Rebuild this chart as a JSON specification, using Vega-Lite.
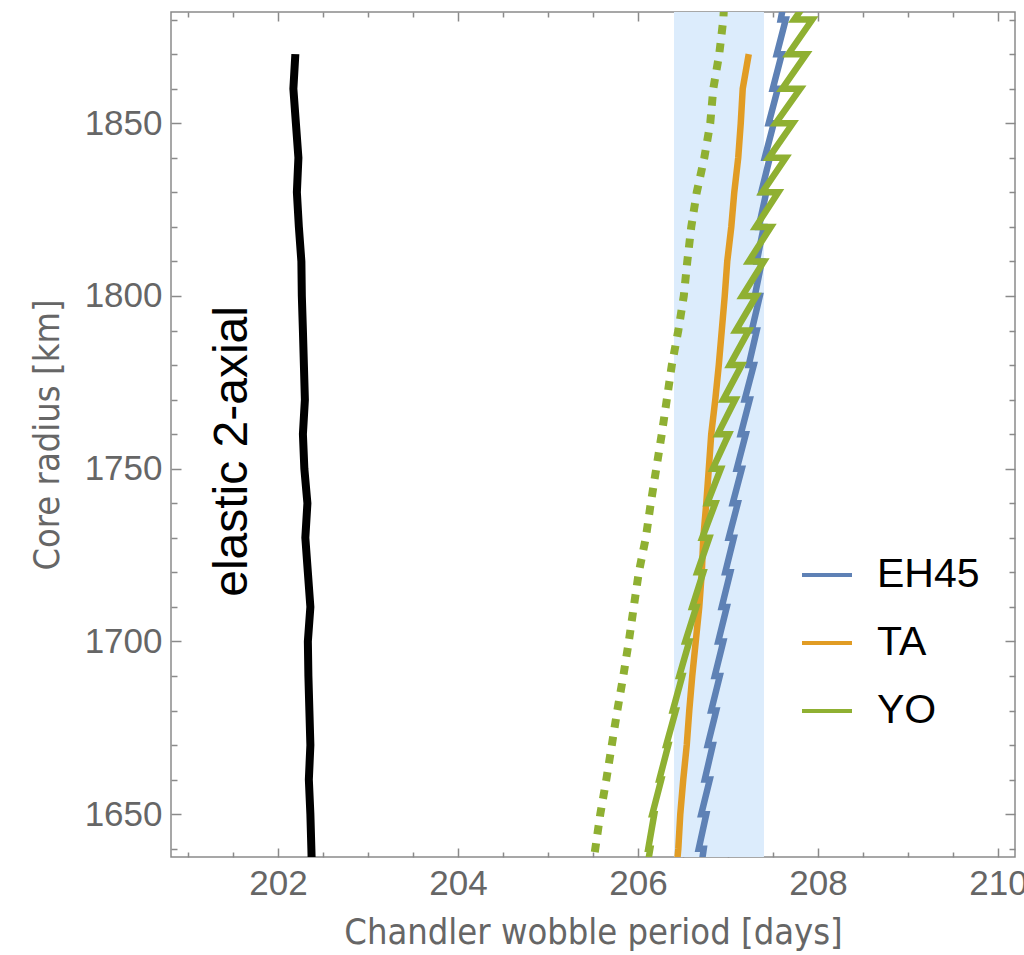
{
  "$schema": "https://vega.github.io/schema/vega-lite/v6.json",
  "width": 844,
  "height": 845,
  "autosize": {"type": "none"},
  "padding": {"left": 171, "top": 12, "right": 9, "bottom": 98},
  "background": "white",
  "config": {"view": {"stroke": "#8a8a8a", "strokeWidth": 1.5}, "font": "Liberation Sans"},
  "datasets": {
    "band": [{"x1": 206.4, "x2": 207.4}],
    "label": [{"x": 201.503, "y": 1755, "t": "elastic 2-axial"}],
    "elastic": [
      {"i": 0, "r": 1870, "x": 202.192}, {"i": 1, "r": 1860, "x": 202.170}, {"i": 2, "r": 1850, "x": 202.198},
      {"i": 3, "r": 1840, "x": 202.226}, {"i": 4, "r": 1830, "x": 202.209}, {"i": 5, "r": 1820, "x": 202.231},
      {"i": 6, "r": 1810, "x": 202.259}, {"i": 7, "r": 1800, "x": 202.264}, {"i": 8, "r": 1790, "x": 202.276},
      {"i": 9, "r": 1780, "x": 202.287}, {"i": 10, "r": 1770, "x": 202.298}, {"i": 11, "r": 1760, "x": 202.276},
      {"i": 12, "r": 1750, "x": 202.292}, {"i": 13, "r": 1740, "x": 202.326}, {"i": 14, "r": 1730, "x": 202.303},
      {"i": 15, "r": 1720, "x": 202.331}, {"i": 16, "r": 1710, "x": 202.359}, {"i": 17, "r": 1700, "x": 202.331},
      {"i": 18, "r": 1690, "x": 202.337}, {"i": 19, "r": 1680, "x": 202.348}, {"i": 20, "r": 1670, "x": 202.359},
      {"i": 21, "r": 1660, "x": 202.342}, {"i": 22, "r": 1650, "x": 202.359}, {"i": 23, "r": 1640, "x": 202.370},
      {"i": 24, "r": 1630, "x": 202.380}
    ],
    "dotted": [
      {"i": 0, "r": 1639, "x": 205.520}, {"i": 1, "r": 1650, "x": 205.581}, {"i": 2, "r": 1660, "x": 205.648},
      {"i": 3, "r": 1670, "x": 205.709}, {"i": 4, "r": 1680, "x": 205.770}, {"i": 5, "r": 1690, "x": 205.837},
      {"i": 6, "r": 1700, "x": 205.898}, {"i": 7, "r": 1710, "x": 205.953}, {"i": 8, "r": 1720, "x": 206.009},
      {"i": 9, "r": 1730, "x": 206.087}, {"i": 10, "r": 1740, "x": 206.142}, {"i": 11, "r": 1750, "x": 206.203},
      {"i": 12, "r": 1760, "x": 206.264}, {"i": 13, "r": 1770, "x": 206.320}, {"i": 14, "r": 1780, "x": 206.376},
      {"i": 15, "r": 1790, "x": 206.448}, {"i": 16, "r": 1800, "x": 206.509}, {"i": 17, "r": 1810, "x": 206.548},
      {"i": 18, "r": 1820, "x": 206.592}, {"i": 19, "r": 1830, "x": 206.653}, {"i": 20, "r": 1840, "x": 206.737},
      {"i": 21, "r": 1850, "x": 206.803}, {"i": 22, "r": 1860, "x": 206.837}, {"i": 23, "r": 1870, "x": 206.903},
      {"i": 24, "r": 1880, "x": 206.948}, {"i": 25, "r": 1890, "x": 206.970}
    ],
    "models": [
      {"m": "EH45", "i": 0, "r": 1630, "x": 206.675},
      {"m": "EH45", "i": 1, "r": 1640, "x": 206.731}, {"m": "EH45", "i": 2, "r": 1640, "x": 206.675},
      {"m": "EH45", "i": 3, "r": 1650, "x": 206.759}, {"m": "EH45", "i": 4, "r": 1650, "x": 206.703},
      {"m": "EH45", "i": 5, "r": 1660, "x": 206.798}, {"m": "EH45", "i": 6, "r": 1660, "x": 206.742},
      {"m": "EH45", "i": 7, "r": 1670, "x": 206.831}, {"m": "EH45", "i": 8, "r": 1670, "x": 206.775},
      {"m": "EH45", "i": 9, "r": 1680, "x": 206.870}, {"m": "EH45", "i": 10, "r": 1680, "x": 206.814},
      {"m": "EH45", "i": 11, "r": 1690, "x": 206.909}, {"m": "EH45", "i": 12, "r": 1690, "x": 206.853},
      {"m": "EH45", "i": 13, "r": 1700, "x": 206.948}, {"m": "EH45", "i": 14, "r": 1700, "x": 206.892},
      {"m": "EH45", "i": 15, "r": 1710, "x": 206.987}, {"m": "EH45", "i": 16, "r": 1710, "x": 206.931},
      {"m": "EH45", "i": 17, "r": 1720, "x": 207.026}, {"m": "EH45", "i": 18, "r": 1720, "x": 206.970},
      {"m": "EH45", "i": 19, "r": 1730, "x": 207.065}, {"m": "EH45", "i": 20, "r": 1730, "x": 207.009},
      {"m": "EH45", "i": 21, "r": 1740, "x": 207.109}, {"m": "EH45", "i": 22, "r": 1740, "x": 207.053},
      {"m": "EH45", "i": 23, "r": 1750, "x": 207.154}, {"m": "EH45", "i": 24, "r": 1750, "x": 207.098},
      {"m": "EH45", "i": 25, "r": 1760, "x": 207.198}, {"m": "EH45", "i": 26, "r": 1760, "x": 207.142},
      {"m": "EH45", "i": 27, "r": 1770, "x": 207.242}, {"m": "EH45", "i": 28, "r": 1770, "x": 207.186},
      {"m": "EH45", "i": 29, "r": 1780, "x": 207.287}, {"m": "EH45", "i": 30, "r": 1780, "x": 207.231},
      {"m": "EH45", "i": 31, "r": 1790, "x": 207.320}, {"m": "EH45", "i": 32, "r": 1790, "x": 207.264},
      {"m": "EH45", "i": 33, "r": 1800, "x": 207.354}, {"m": "EH45", "i": 34, "r": 1800, "x": 207.298},
      {"m": "EH45", "i": 35, "r": 1810, "x": 207.376}, {"m": "EH45", "i": 36, "r": 1810, "x": 207.320},
      {"m": "EH45", "i": 37, "r": 1820, "x": 207.398}, {"m": "EH45", "i": 38, "r": 1820, "x": 207.342},
      {"m": "EH45", "i": 39, "r": 1830, "x": 207.426}, {"m": "EH45", "i": 40, "r": 1830, "x": 207.370},
      {"m": "EH45", "i": 41, "r": 1840, "x": 207.465}, {"m": "EH45", "i": 42, "r": 1840, "x": 207.409},
      {"m": "EH45", "i": 43, "r": 1850, "x": 207.509}, {"m": "EH45", "i": 44, "r": 1850, "x": 207.453},
      {"m": "EH45", "i": 45, "r": 1860, "x": 207.554}, {"m": "EH45", "i": 46, "r": 1860, "x": 207.498},
      {"m": "EH45", "i": 47, "r": 1870, "x": 207.598}, {"m": "EH45", "i": 48, "r": 1870, "x": 207.542},
      {"m": "EH45", "i": 49, "r": 1880, "x": 207.642}, {"m": "EH45", "i": 50, "r": 1880, "x": 207.586},
      {"m": "EH45", "i": 51, "r": 1890, "x": 207.660},
      {"m": "TA", "i": 0, "r": 1635, "x": 206.431}, {"m": "TA", "i": 1, "r": 1640, "x": 206.448},
      {"m": "TA", "i": 2, "r": 1650, "x": 206.470}, {"m": "TA", "i": 3, "r": 1660, "x": 206.503},
      {"m": "TA", "i": 4, "r": 1670, "x": 206.542}, {"m": "TA", "i": 5, "r": 1680, "x": 206.570},
      {"m": "TA", "i": 6, "r": 1690, "x": 206.603}, {"m": "TA", "i": 7, "r": 1700, "x": 206.642},
      {"m": "TA", "i": 8, "r": 1710, "x": 206.681}, {"m": "TA", "i": 9, "r": 1720, "x": 206.709},
      {"m": "TA", "i": 10, "r": 1730, "x": 206.726}, {"m": "TA", "i": 11, "r": 1740, "x": 206.759},
      {"m": "TA", "i": 12, "r": 1750, "x": 206.787}, {"m": "TA", "i": 13, "r": 1760, "x": 206.814},
      {"m": "TA", "i": 14, "r": 1770, "x": 206.859}, {"m": "TA", "i": 15, "r": 1780, "x": 206.898},
      {"m": "TA", "i": 16, "r": 1790, "x": 206.931}, {"m": "TA", "i": 17, "r": 1800, "x": 206.964},
      {"m": "TA", "i": 18, "r": 1810, "x": 206.992}, {"m": "TA", "i": 19, "r": 1820, "x": 207.037},
      {"m": "TA", "i": 20, "r": 1830, "x": 207.070}, {"m": "TA", "i": 21, "r": 1840, "x": 207.114},
      {"m": "TA", "i": 22, "r": 1850, "x": 207.142}, {"m": "TA", "i": 23, "r": 1860, "x": 207.164},
      {"m": "TA", "i": 24, "r": 1870, "x": 207.231},
      {"m": "YO", "i": 0, "r": 1630, "x": 206.070},
      {"m": "YO", "i": 1, "r": 1640, "x": 206.137}, {"m": "YO", "i": 2, "r": 1640, "x": 206.114},
      {"m": "YO", "i": 3, "r": 1650, "x": 206.181}, {"m": "YO", "i": 4, "r": 1650, "x": 206.159},
      {"m": "YO", "i": 5, "r": 1660, "x": 206.259}, {"m": "YO", "i": 6, "r": 1660, "x": 206.237},
      {"m": "YO", "i": 7, "r": 1670, "x": 206.337}, {"m": "YO", "i": 8, "r": 1670, "x": 206.314},
      {"m": "YO", "i": 9, "r": 1680, "x": 206.420}, {"m": "YO", "i": 10, "r": 1680, "x": 206.387},
      {"m": "YO", "i": 11, "r": 1690, "x": 206.492}, {"m": "YO", "i": 12, "r": 1690, "x": 206.459},
      {"m": "YO", "i": 13, "r": 1700, "x": 206.570}, {"m": "YO", "i": 14, "r": 1700, "x": 206.526},
      {"m": "YO", "i": 15, "r": 1710, "x": 206.648}, {"m": "YO", "i": 16, "r": 1710, "x": 206.603},
      {"m": "YO", "i": 17, "r": 1720, "x": 206.726}, {"m": "YO", "i": 18, "r": 1720, "x": 206.659},
      {"m": "YO", "i": 19, "r": 1730, "x": 206.792}, {"m": "YO", "i": 20, "r": 1730, "x": 206.714},
      {"m": "YO", "i": 21, "r": 1740, "x": 206.859}, {"m": "YO", "i": 22, "r": 1740, "x": 206.770},
      {"m": "YO", "i": 23, "r": 1750, "x": 206.920}, {"m": "YO", "i": 24, "r": 1750, "x": 206.831},
      {"m": "YO", "i": 25, "r": 1760, "x": 207.009}, {"m": "YO", "i": 26, "r": 1760, "x": 206.887},
      {"m": "YO", "i": 27, "r": 1770, "x": 207.081}, {"m": "YO", "i": 28, "r": 1770, "x": 206.948},
      {"m": "YO", "i": 29, "r": 1780, "x": 207.153}, {"m": "YO", "i": 30, "r": 1780, "x": 207.020},
      {"m": "YO", "i": 31, "r": 1790, "x": 207.231}, {"m": "YO", "i": 32, "r": 1790, "x": 207.087},
      {"m": "YO", "i": 33, "r": 1800, "x": 207.314}, {"m": "YO", "i": 34, "r": 1800, "x": 207.159},
      {"m": "YO", "i": 35, "r": 1810, "x": 207.398}, {"m": "YO", "i": 36, "r": 1810, "x": 207.231},
      {"m": "YO", "i": 37, "r": 1820, "x": 207.476}, {"m": "YO", "i": 38, "r": 1820, "x": 207.309},
      {"m": "YO", "i": 39, "r": 1830, "x": 207.559}, {"m": "YO", "i": 40, "r": 1830, "x": 207.381},
      {"m": "YO", "i": 41, "r": 1840, "x": 207.642}, {"m": "YO", "i": 42, "r": 1840, "x": 207.453},
      {"m": "YO", "i": 43, "r": 1850, "x": 207.720}, {"m": "YO", "i": 44, "r": 1850, "x": 207.531},
      {"m": "YO", "i": 45, "r": 1860, "x": 207.803}, {"m": "YO", "i": 46, "r": 1860, "x": 207.603},
      {"m": "YO", "i": 47, "r": 1870, "x": 207.870}, {"m": "YO", "i": 48, "r": 1870, "x": 207.670},
      {"m": "YO", "i": 49, "r": 1880, "x": 207.937}, {"m": "YO", "i": 50, "r": 1880, "x": 207.737},
      {"m": "YO", "i": 51, "r": 1890, "x": 208.003}
    ]
  },
  "resolve": {"axis": {"x": "independent", "y": "independent"}},
  "layer": [
    {
      "data": {"name": "band"},
      "mark": {"type": "rect", "color": "#dcecfc"},
      "encoding": {
        "x": {"field": "x1", "type": "quantitative", "scale": {"domain": [200.81, 210.19], "nice": false, "zero": false},
          "axis": {"orient": "bottom", "values": [202, 204, 206, 208, 210], "format": "d", "tickSize": -9, "tickColor": "#8a8a8a", "tickWidth": 1.5, "domain": false, "grid": false,
            "labelFontSize": 35, "labelColor": "#666666", "labelPadding": 18, "labelFont": "Liberation Sans", "labelFlush": false, "labelOverlap": false,
            "title": "Chandler wobble period [days]", "titleFontSize": 36, "titleFont": "Liberation Sans Narrow, DejaVu Sans Condensed, sans-serif", "titleColor": "#666666", "titleFontWeight": "normal", "titlePadding": 14}},
        "x2": {"field": "x2"}
      }
    },
    {
      "data": {"name": "elastic"},
      "mark": {"type": "line", "color": "black", "strokeWidth": 8, "strokeCap": "butt", "clip": true},
      "encoding": {
        "x": {"field": "x", "type": "quantitative", "scale": {"domain": [200.81, 210.19], "nice": false, "zero": false},
          "axis": {"orient": "bottom", "values": [201, 201.5, 202.5, 203, 203.5, 204.5, 205, 205.5, 206.5, 207, 207.5, 208.5, 209, 209.5], "labels": false, "tickSize": -5, "tickColor": "#8a8a8a", "tickWidth": 1.5, "domain": false, "grid": false, "title": null}},
        "y": {"field": "r", "type": "quantitative", "scale": {"domain": [1637.6, 1882.2], "nice": false, "zero": false},
          "axis": {"orient": "left", "values": [1650, 1700, 1750, 1800, 1850], "format": "d", "tickSize": -10, "tickColor": "#8a8a8a", "tickWidth": 1.5, "domain": false, "grid": false,
            "labelFontSize": 35, "labelColor": "#666666", "labelPadding": 19, "labelFont": "Liberation Sans", "labelFlush": false, "labelOverlap": false,
            "title": "Core radius [km]", "titleFontSize": 36, "titleFont": "Liberation Sans Narrow, DejaVu Sans Condensed, sans-serif", "titleColor": "#666666", "titleFontWeight": "normal", "titlePadding": 18}},
        "order": {"field": "i", "type": "quantitative"}
      }
    },
    {
      "data": {"name": "models"},
      "mark": {"type": "line", "strokeWidth": 6.5, "strokeCap": "butt", "clip": true},
      "encoding": {
        "x": {"field": "x", "type": "quantitative", "scale": {"domain": [200.81, 210.19], "nice": false, "zero": false},
          "axis": {"orient": "top", "values": [202, 204, 206, 208, 210], "labels": false, "tickSize": -9, "tickColor": "#8a8a8a", "tickWidth": 1.5, "domain": false, "grid": false, "title": null}},
        "y": {"field": "r", "type": "quantitative", "scale": {"domain": [1637.6, 1882.2], "nice": false, "zero": false},
          "axis": {"orient": "left", "values": [1640, 1660, 1670, 1680, 1690, 1710, 1720, 1730, 1740, 1760, 1770, 1780, 1790, 1810, 1820, 1830, 1840, 1860, 1870, 1880], "labels": false, "tickSize": -6, "tickColor": "#8a8a8a", "tickWidth": 1.5, "domain": false, "grid": false, "title": null}},
        "color": {"field": "m", "type": "nominal", "scale": {"domain": ["EH45", "TA", "YO"], "range": ["#5e81b5", "#e19c24", "#8fb032"]},
          "legend": {"orient": "none", "legendX": 629, "legendY": 536, "symbolType": "stroke", "symbolSize": 2500, "symbolStrokeWidth": 4, "labelFontSize": 41, "labelColor": "black", "labelFont": "Liberation Sans", "labelOffset": 23, "rowPadding": 21, "title": null, "padding": 0}},
        "order": {"field": "i", "type": "quantitative"}
      }
    },
    {
      "data": {"name": "dotted"},
      "mark": {"type": "line", "color": "#8fb032", "strokeWidth": 8, "strokeDash": [9, 9], "strokeCap": "butt", "clip": true},
      "encoding": {
        "x": {"field": "x", "type": "quantitative", "scale": {"domain": [200.81, 210.19], "nice": false, "zero": false},
          "axis": {"orient": "top", "values": [201, 201.5, 202.5, 203, 203.5, 204.5, 205, 205.5, 206.5, 207, 207.5, 208.5, 209, 209.5], "labels": false, "tickSize": -5, "tickColor": "#8a8a8a", "tickWidth": 1.5, "domain": false, "grid": false, "title": null}},
        "y": {"field": "r", "type": "quantitative", "scale": {"domain": [1637.6, 1882.2], "nice": false, "zero": false},
          "axis": {"orient": "right", "values": [1650, 1700, 1750, 1800, 1850], "labels": false, "tickSize": -10, "tickColor": "#8a8a8a", "tickWidth": 1.5, "domain": false, "grid": false, "title": null}},
        "order": {"field": "i", "type": "quantitative"}
      }
    },
    {
      "data": {"name": "label"},
      "mark": {"type": "text", "angle": 270, "fontSize": 48, "font": "Liberation Sans", "color": "black", "align": "center", "baseline": "middle"},
      "encoding": {
        "x": {"field": "x", "type": "quantitative", "scale": {"domain": [200.81, 210.19], "nice": false, "zero": false}, "axis": null},
        "y": {"field": "y", "type": "quantitative", "scale": {"domain": [1637.6, 1882.2], "nice": false, "zero": false},
          "axis": {"orient": "right", "values": [1640, 1660, 1670, 1680, 1690, 1710, 1720, 1730, 1740, 1760, 1770, 1780, 1790, 1810, 1820, 1830, 1840, 1860, 1870, 1880], "labels": false, "tickSize": -6, "tickColor": "#8a8a8a", "tickWidth": 1.5, "domain": false, "grid": false, "title": null}},
        "text": {"field": "t"}
      }
    }
  ]
}
